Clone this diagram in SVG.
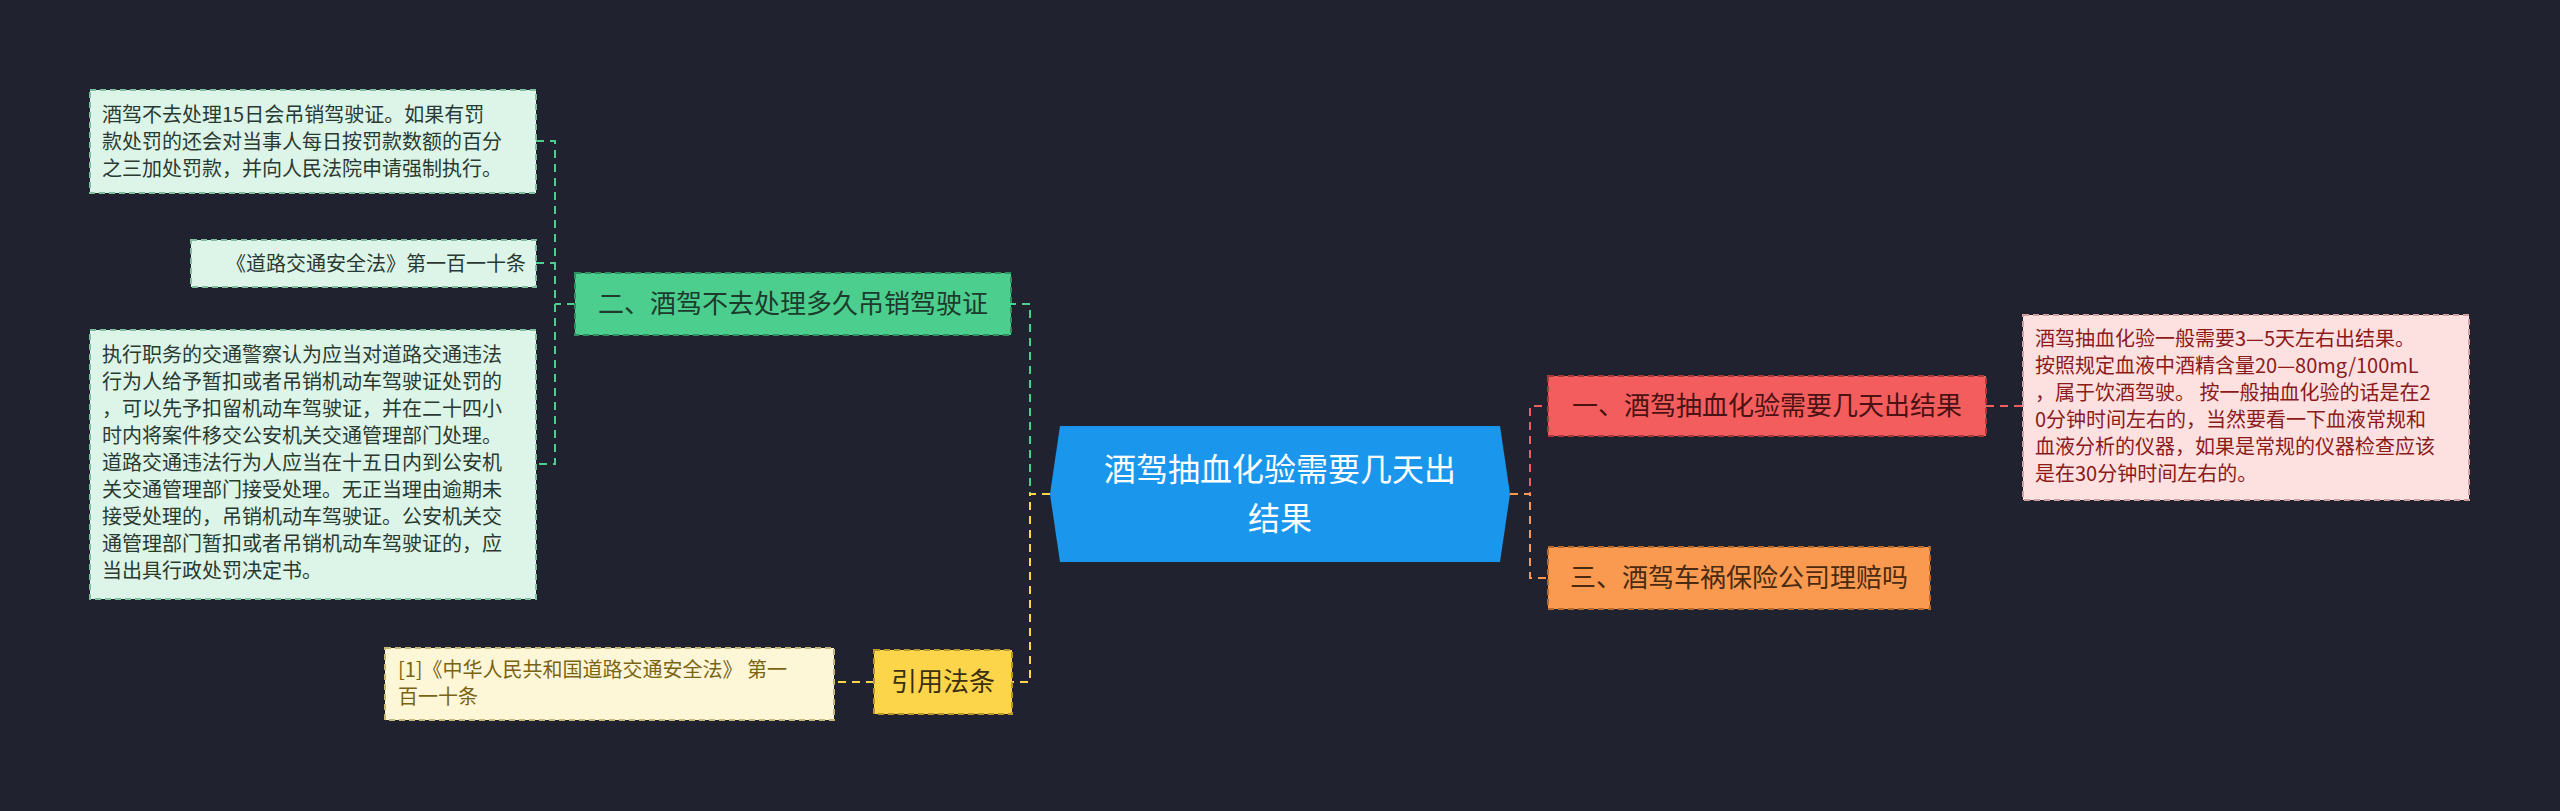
<svg xmlns="http://www.w3.org/2000/svg" width="2560" height="811" viewBox="0 0 2560 811">
<style>
text{font-family:"Noto Sans CJK SC","Liberation Sans",sans-serif}
.d{font-size:20px}
.n{font-size:26px}
.c{stroke-width:2;fill:none;stroke-dasharray:8 6}
.b{stroke-width:2;stroke-dasharray:6 4}
</style>
<rect width="2560" height="811" fill="#20232f"/>
<g id="connectors">
<path class="c" stroke="#4ccf8e" d="M1050 494H1030V304H1011"/>
<path class="c" stroke="#fdd54a" d="M1050 494H1030V682H1012"/>
<path class="c" stroke="#4ccf8e" d="M575 304H555M536 141H555V464H536M536 263H555"/>
<path class="c" stroke="#fdd54a" d="M874 682H834"/>
<path class="c" stroke="#f45d5d" d="M1510 494H1530V406H1548M1986 406H2023"/>
<path class="c" stroke="#f99a50" d="M1510 494H1530V578H1548"/>
</g>
<g id="center">
<polygon points="1060,426 1500,426 1510,494 1500,562 1060,562 1050,494" fill="#1a97ed"/>
<text x="1280" y="481" font-size="32" fill="#fff" text-anchor="middle">酒驾抽血化验需要几天出</text>
<text x="1280" y="530" font-size="32" fill="#fff" text-anchor="middle">结果</text>
</g>
<g id="n2">
<rect class="b" x="575" y="273" width="436" height="62" fill="#4ccf8e" stroke="#2f8f5e"/>
<text class="n" x="793" y="313" fill="#1d3b2c" text-anchor="middle">二、酒驾不去处理多久吊销驾驶证</text>
</g>
<g id="a">
<rect class="b" x="90" y="90" width="446" height="103" fill="#dcf5e8" stroke="#7fbf9e"/>
<g class="d" fill="#2a3a32">
<text x="102" y="122">酒驾不去处理15日会吊销驾驶证。如果有罚</text>
<text x="102" y="149">款处罚的还会对当事人每日按罚款数额的百分</text>
<text x="102" y="176">之三加处罚款，并向人民法院申请强制执行。</text>
</g>
</g>
<g id="b">
<rect class="b" x="191" y="240" width="345" height="47" fill="#dcf5e8" stroke="#7fbf9e"/>
<text class="d" x="526" y="271" fill="#2a3a32" text-anchor="end">《道路交通安全法》第一百一十条</text>
</g>
<g id="c">
<rect class="b" x="90" y="330" width="446" height="269" fill="#dcf5e8" stroke="#7fbf9e"/>
<g class="d" fill="#2a3a32">
<text x="102" y="362">执行职务的交通警察认为应当对道路交通违法</text>
<text x="102" y="389">行为人给予暂扣或者吊销机动车驾驶证处罚的</text>
<text x="102" y="416">，可以先予扣留机动车驾驶证，并在二十四小</text>
<text x="102" y="443">时内将案件移交公安机关交通管理部门处理。</text>
<text x="102" y="470">道路交通违法行为人应当在十五日内到公安机</text>
<text x="102" y="497">关交通管理部门接受处理。无正当理由逾期未</text>
<text x="102" y="524">接受处理的，吊销机动车驾驶证。公安机关交</text>
<text x="102" y="551">通管理部门暂扣或者吊销机动车驾驶证的，应</text>
<text x="102" y="578">当出具行政处罚决定书。</text>
</g>
</g>
<g id="law">
<rect class="b" x="874" y="650" width="138" height="64" fill="#fdd54a" stroke="#b8962a"/>
<text class="n" x="943" y="691" fill="#3a3010" text-anchor="middle">引用法条</text>
</g>
<g id="ref">
<rect class="b" x="385" y="648" width="449" height="72" fill="#fef7d7" stroke="#c8b878"/>
<text class="d" x="398" y="677" fill="#7a6414">[1]《中华人民共和国道路交通安全法》 第一</text>
<text class="d" x="398" y="704" fill="#7a6414">百一十条</text>
</g>
<g id="n1">
<rect class="b" x="1548" y="376" width="438" height="60" fill="#f45d5d" stroke="#a83a3a"/>
<text class="n" x="1767" y="415" fill="#4a1212" text-anchor="middle">一、酒驾抽血化验需要几天出结果</text>
</g>
<g id="r">
<rect class="b" x="2023" y="315" width="446" height="185" fill="#fde0e0" stroke="#d0a0a0"/>
<g class="d" fill="#8b1a1a">
<text x="2035" y="346">酒驾抽血化验一般需要3—5天左右出结果。</text>
<text x="2035" y="373">按照规定血液中酒精含量20—80mg/100mL</text>
<text x="2035" y="400">，属于饮酒驾驶。 按一般抽血化验的话是在2</text>
<text x="2035" y="427">0分钟时间左右的，当然要看一下血液常规和</text>
<text x="2035" y="454">血液分析的仪器，如果是常规的仪器检查应该</text>
<text x="2035" y="481">是在30分钟时间左右的。</text>
</g>
</g>
<g id="n3">
<rect class="b" x="1548" y="547" width="382" height="62" fill="#f99a50" stroke="#b86a2a"/>
<text class="n" x="1739" y="587" fill="#4a2a10" text-anchor="middle">三、酒驾车祸保险公司理赔吗</text>
</g>
</svg>
